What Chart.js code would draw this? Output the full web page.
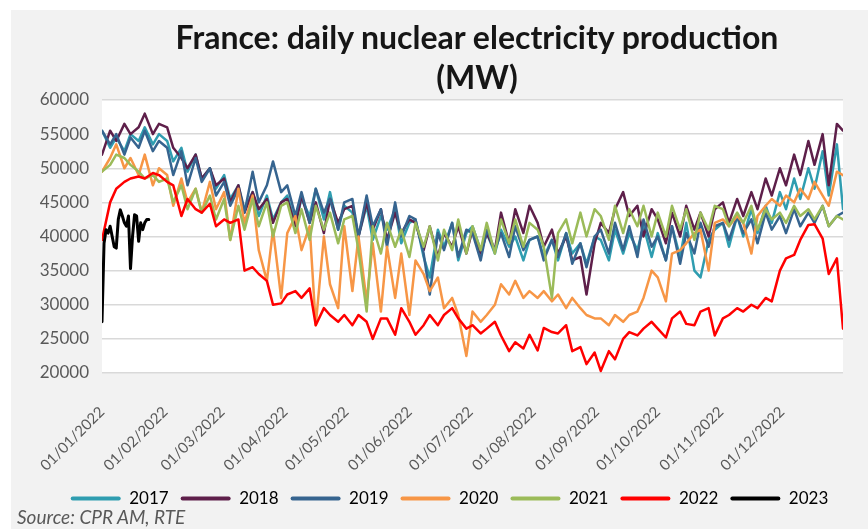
<!DOCTYPE html>
<html>
<head>
<meta charset="utf-8">
<script src="https://cdn.jsdelivr.net/npm/chart.js"></script>
<style>
  html, body { margin: 0; padding: 0; background: #fff; }
  #frame { position: absolute; left: 11px; top: 10px; width: 857px; height: 519px; background: #f2f2f2; }
  #title { position: absolute; left: 127px; width: 700px; top: 17px; text-align: center;
           font: bold 32px Lato, sans-serif; line-height: 40px; color: #161616; }
  #source { position: absolute; left: 17px; top: 505px; font: italic 19px Lato, sans-serif; color: #595959; }
  #wrap { position: absolute; left: 11px; top: 10px; width: 857px; height: 519px; }
</style>
</head>
<body>
<div id="frame"></div>
<div id="wrap"><canvas id="nuclearChart"></canvas></div>
<div id="title">France: daily nuclear electricity production<br>(MW)</div>
<div id="source">Source: CPR AM, RTE</div>
<script>
// day of year of each sample (about two per week)
const sampleDays = [0,4,7,11,14,18,21,25,28,32,35,39,42,46,49,53,56,60,63,67,70,74,77,81,84,88,91,95,98,102,105,109,112,116,119,123,126,130,133,137,140,144,147,151,154,158,161,165,168,172,175,179,182,186,189,193,196,200,203,207,210,214,217,221,224,228,231,235,238,242,245,249,252,256,259,263,266,270,273,277,280,284,287,291,294,298,301,305,308,312,315,319,322,326,329,333,336,340,343,347,350,354,357,361,364];

const y2017 = [55500,53000,54500,52500,55000,54000,56000,53500,55000,
  54000,51000,53000,49500,52000,48500,50000,47000,
  49000,45500,47500,44000,46500,43000,46000,42500,45000,
  46000,42000,45500,43000,47000,42500,46500,41000,44500,
  43500,40000,44500,39500,43000,41000,44000,39000,42000,
  42500,37000,34000,41000,38500,42000,36500,40500,
  41500,38000,40500,37500,41000,38500,40000,36500,39500,
  40000,37000,39500,36500,40500,37500,39000,36000,40000,
  39500,36500,41000,37500,40500,38000,41500,37000,
  40500,36500,41500,37000,42000,35000,34000,39500,41000,
  42000,38500,43000,40000,44000,40500,44500,42000,
  46500,44000,48500,45500,50000,47000,52500,46000,53500,44000];

const y2018 = [52000,55500,54000,56500,55000,56000,58000,55000,56500,
  56000,53000,51500,50000,52000,48500,50000,47500,
  48500,45000,47500,43500,46500,44000,45500,42000,45000,
  45500,41500,46000,42000,45000,40500,45500,42000,44000,
  44500,40000,45000,41000,44000,39500,43500,40500,42500,
  42000,38000,41500,37000,40500,38500,41500,37500,
  41000,37500,40500,38000,43500,39000,44000,40500,44500,
  42000,38500,41000,37500,40000,36500,37000,31500,39000,
  42000,40500,44000,46500,43000,44500,40000,44000,
  42500,39000,43500,40000,44500,41000,43500,40000,44000,
  45000,42000,45500,43000,46500,44000,48500,46000,
  50000,47500,52000,49000,54000,50500,55000,47500,56500,55500];

const y2019 = [55500,53500,55000,52000,54500,53000,55500,52500,54000,
  53000,49000,52500,47500,51500,48000,50000,46000,
  48000,44500,47000,43500,49500,45000,47500,51000,46500,
  47500,43000,46500,42000,47000,43500,45500,41000,45000,
  45500,40000,46000,41500,44000,38500,45000,40000,43000,
  42500,37500,31500,40500,38000,42000,37000,41000,
  40500,36500,41000,38000,40500,37000,41500,38000,39500,
  40000,36500,39500,37000,40500,36000,39000,35500,40000,
  41000,37500,42000,38000,41500,37000,42500,38500,
  40000,36500,41500,36000,40500,37500,42000,38500,41500,
  42000,39500,43000,40500,42500,39000,43500,41000,
  43000,40500,44000,41500,43500,42000,44500,41500,43000,43500];

const y2020 = [49500,51500,53500,50000,51500,49000,52000,47500,50000,
  49000,44500,48500,45000,47000,43500,48000,44000,
  46500,39500,47000,42000,46000,38000,33500,41000,31000,
  40500,43000,38000,41500,27000,40000,33000,29500,41500,
  32000,40000,30500,39000,29000,38500,31000,37500,28500,
  36500,34500,32000,34000,29500,31000,28500,22500,
  29000,27500,28500,30000,33000,31500,33500,31000,32000,
  31000,32000,30500,31500,29500,31000,29500,28500,28000,
  28000,27000,28500,27500,28500,29000,31000,35000,
  34000,30500,37500,38000,39000,40500,41000,35000,42000,
  42500,41500,43000,42000,37500,43000,44500,45500,
  44500,46000,45000,47000,45500,48000,46000,44500,49500,49000];

const y2021 = [49500,50500,52000,51500,50500,49500,48500,49000,48000,
  48500,45000,47500,44000,47000,43500,46000,42500,
  45500,39500,44500,41000,45500,41500,45000,40000,44500,
  45000,40500,44000,39500,44500,41000,43500,39000,42500,
  43000,38000,29000,41500,37500,42000,38500,41000,37000,
  42000,38500,41500,36500,41000,38000,42500,37500,
  41500,38000,42000,37500,42500,39000,42500,38500,42000,
  41000,38500,31000,40500,42500,39000,43500,40000,44000,
  43000,39500,44500,40500,44000,41500,44500,40000,
  43500,40000,44500,41000,44000,39500,43500,41000,44500,
  44000,41500,43500,42000,44500,41000,44000,42500,
  43500,42000,44500,43000,44000,42500,44500,41500,43000,42500];

const y2022 = [39500,45000,47000,48000,48500,48800,48500,49300,49000,
  48000,47500,43000,45500,44000,43500,44800,41500,
  42500,42000,42500,35000,35500,34500,33500,30000,30200,
  31500,32000,31000,32400,27000,29500,28500,27500,28500,
  27000,28500,27500,25000,28000,28000,25600,29500,27500,
  25600,27000,28500,27000,28500,29500,28000,26500,
  27000,25800,26500,27500,25500,23200,24500,23600,25600,
  23300,26600,26000,25800,27000,23200,23800,21300,23000,
  20300,23200,22000,25000,26000,25500,26500,27500,
  26500,25200,28000,29000,27200,27000,29000,29500,25500,
  28000,28500,29500,29000,30000,29500,31000,30500,
  35000,36800,37300,39500,41700,41800,39700,34500,36800,26500];

// 2023 so far, one value per day from 1 January
const y2023 = [27500,39000,41000,40500,41500,40000,38500,38300,42500,43900,
  43000,42000,41500,43000,35300,40000,43200,43000,39300,42000,41000,42000,42500,42500];

const years = ["2017", "2018", "2019", "2020", "2021", "2022", "2023"];
const colors = ["#2f9db0", "#5e1f4a", "#36648f", "#f79646", "#9bbb59", "#ff0000", "#000000"];

const monthDays = [0, 31, 59, 90, 120, 151, 181, 212, 243, 273, 304, 334];
const monthLabels = ["01/01/2022", "01/02/2022", "01/03/2022", "01/04/2022", "01/05/2022", "01/06/2022",
  "01/07/2022", "01/08/2022", "01/09/2022", "01/10/2022", "01/11/2022", "01/12/2022"];

const yTicks = [20000, 25000, 30000, 35000, 40000, 45000, 50000, 55000, 60000];

function toPoints(days, values) {
  return values.map((v, i) => ({ x: days[i], y: v }));
}

const seriesValues = [y2017, y2018, y2019, y2020, y2021, y2022];
const datasets = seriesValues.map((vals, i) => ({
  label: years[i],
  data: toPoints(sampleDays, vals),
  borderColor: colors[i],
  backgroundColor: colors[i],
  borderWidth: 2.5,
  order: 7 - i
}));
datasets.push({
  label: years[6],
  data: y2023.map((v, d) => ({ x: d, y: v })),
  borderColor: colors[6],
  backgroundColor: colors[6],
  borderWidth: 3,
  order: 0
});

// white plot area on grey background
const plotBg = {
  id: "plotBg",
  beforeDraw(chart) {
    const a = chart.chartArea;
    chart.ctx.save();
    chart.ctx.fillStyle = "#ffffff";
    chart.ctx.fillRect(a.left, a.top, a.right - a.left, a.bottom - a.top);
    chart.ctx.restore();
  }
};

Chart.defaults.font.family = "Lato, sans-serif";
Chart.defaults.color = "#595959";

new Chart(document.getElementById("nuclearChart"), {
  type: "line",
  data: { datasets: datasets },
  plugins: [plotBg],
  options: {
    responsive: true,
    maintainAspectRatio: false,
    animation: false,
    elements: { point: { radius: 0 }, line: { tension: 0, borderJoinStyle: "round", borderCapStyle: "round" } },
    layout: { padding: { top: 90, right: 0, left: 20, bottom: 12 } },
    plugins: {
      tooltip: { enabled: false },
      legend: {
        position: "bottom",
        labels: {
          boxWidth: 50,
          boxHeight: 4,
          padding: 12,
          font: { size: 17 },
          color: "#595959",
          sort: (a, b) => a.datasetIndex - b.datasetIndex,
          generateLabels(chart) {
            return chart.data.datasets.map((ds, i) => ({
              text: ds.label,
              fillStyle: ds.borderColor,
              strokeStyle: ds.borderColor,
              lineWidth: 0,
              borderRadius: 2,
              datasetIndex: i,
              hidden: false
            }));
          }
        }
      }
    },
    scales: {
      x: {
        type: "linear",
        min: 0,
        max: 364,
        grid: { display: false },
        border: { display: false },
        afterBuildTicks(axis) { axis.ticks = monthDays.map(v => ({ value: v })); },
        afterFit(axis) { axis.height = 105; },
        ticks: {
          minRotation: 45,
          maxRotation: 45,
          padding: 22,
          font: { size: 15 },
          color: "#595959",
          callback: (v, i) => monthLabels[i]
        }
      },
      y: {
        min: 20000,
        max: 60000,
        afterBuildTicks(axis) { axis.ticks = yTicks.map(v => ({ value: v })); },
        afterFit(axis) { axis.width = 71; },
        grid: { color: "#d9d9d9", lineWidth: 1.5, drawTicks: false },
        border: { display: false },
        ticks: {
          padding: 13,
          font: { size: 17 },
          color: "#595959",
          callback: v => String(v)
        }
      },
      // empty right-hand margin, keeps the legend centred on the whole frame
      gap: {
        type: "linear",
        position: "right",
        grid: { display: false },
        border: { display: false },
        ticks: { display: false },
        afterFit(axis) { axis.width = 25; }
      }
    }
  }
});
</script>
</body>
</html>
